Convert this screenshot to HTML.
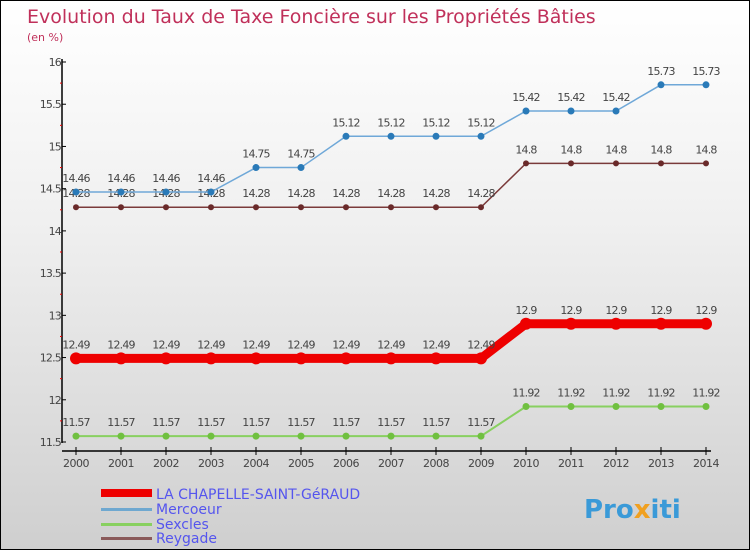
<!DOCTYPE html>
<html><head><meta charset="utf-8"><style>
body{margin:0}
#c{width:748px;height:548px;border:1px solid #000;background:linear-gradient(#fff 0%,#f0f0f0 40%,#cfcfcf 100%);position:relative;font-family:"DejaVu Sans","Liberation Sans",sans-serif}
</style></head><body>
<div id="c">
<svg id="s" width="748" height="548" style="position:absolute;left:0;top:0" font-family="DejaVu Sans, Liberation Sans, sans-serif">
<text x="26" y="22" font-size="19" fill="#c0305a">Evolution du Taux de Taxe Foncière sur les Propriétés Bâties</text>
<text x="26" y="40" font-size="11" fill="#c0305a">(en %)</text>
<g id="g"></g>
<g>
<rect x="100" y="488" width="51" height="8" fill="#e00"/>
<text x="155" y="498" font-size="14" fill="#5555ee">LA CHAPELLE-SAINT-GéRAUD</text>
<rect x="100" y="507" width="51" height="3" fill="#6fa8d0"/>
<text x="155" y="513" font-size="14" fill="#5555ee">Mercoeur</text>
<rect x="100" y="522" width="51" height="3" fill="#88d060"/>
<text x="155" y="528" font-size="14" fill="#5555ee">Sexcles</text>
<rect x="100" y="536" width="51" height="3" fill="#8a5a5a"/>
<text x="155" y="542" font-size="14" fill="#5555ee">Reygade</text>
</g>
<text x="583" y="517" font-size="26" font-weight="bold" fill="#3a9ad8">Pro<tspan fill="#f0a020">x</tspan>iti</text>
</svg>
</div>
<script>
const years=[2000,2001,2002,2003,2004,2005,2006,2007,2008,2009,2010,2011,2012,2013,2014];
const chapelle=[12.49,12.49,12.49,12.49,12.49,12.49,12.49,12.49,12.49,12.49,12.9,12.9,12.9,12.9,12.9];
const mercoeur=[14.46,14.46,14.46,14.46,14.75,14.75,15.12,15.12,15.12,15.12,15.42,15.42,15.42,15.73,15.73];
const sexcles=[11.57,11.57,11.57,11.57,11.57,11.57,11.57,11.57,11.57,11.57,11.92,11.92,11.92,11.92,11.92];
const reygade=[14.28,14.28,14.28,14.28,14.28,14.28,14.28,14.28,14.28,14.28,14.8,14.8,14.8,14.8,14.8];
const yTicks=[11.5,12,12.5,13,13.5,14,14.5,15,15.5,16];
const yTickLabels=["11.5","12","12.5","13","13.5","14","14.5","15","15.5","16"];
const NS="http://www.w3.org/2000/svg";
const g=document.getElementById('g');
const xs=i=>75+i*(630/(years.length-1));
const ys=v=>441-(v-11.5)*(380/4.5);
function mk(t,a){const e=document.createElementNS(NS,t);for(const k in a)e.setAttribute(k,a[k]);g.appendChild(e);return e;}
let e;
e=mk('line',{x1:61,y1:58,x2:61,y2:442,stroke:'#000','stroke-width':1.5});


e=mk('line',{x1:61,y1:450,x2:710,y2:450,stroke:'#000','stroke-width':1.5});


yTicks.forEach((v,i)=>{
 e=mk('line',{x1:61,y1:ys(v),x2:65,y2:ys(v),stroke:'#000'});
 
 
 if(i<yTicks.length-1){e=mk('line',{x1:59,y1:ys(v+0.25),x2:61,y2:ys(v+0.25),stroke:'#e00'});
 
 }
 e=mk('text',{x:60,y:ys(v)+4,'font-size':11,fill:'#444','text-anchor':'end','letter-spacing':'-0.8'});
 e.textContent=yTickLabels[i];
 
 
});
years.forEach((y,i)=>{
 e=mk('line',{x1:xs(i),y1:446,x2:xs(i),y2:454,stroke:'#000'});
 
 
 e=mk('text',{x:xs(i),y:466,'font-size':11,fill:'#444','text-anchor':'middle','letter-spacing':'-0.5'});
 e.textContent=y;
 
 
});
function series(d,col,w,r,name,dot){
 e=mk('polyline',{points:d.map((v,i)=>xs(i)+','+ys(v)).join(' '),fill:'none',stroke:col,'stroke-width':w});
 
 
 d.forEach((v,i)=>{
  e=mk('circle',{cx:xs(i),cy:ys(v),r:r,fill:dot});
  
  
  e=mk('text',{x:xs(i),y:ys(v)-10,'font-size':11,fill:'#444','text-anchor':'middle','letter-spacing':'-0.8'});
  e.textContent=v;
  
  
 });
}
series(sexcles,'#88d060',2,3.5,'sexcles','#70c040');
series(reygade,'#7a3a3a',1.5,3,'reygade','#6a2a2a');
series(mercoeur,'#6fa8d8',1.5,3.5,'mercoeur','#2a7ab8');
series(chapelle,'#e00',9,6,'chapelle','#e00');
</script>
</body></html>
